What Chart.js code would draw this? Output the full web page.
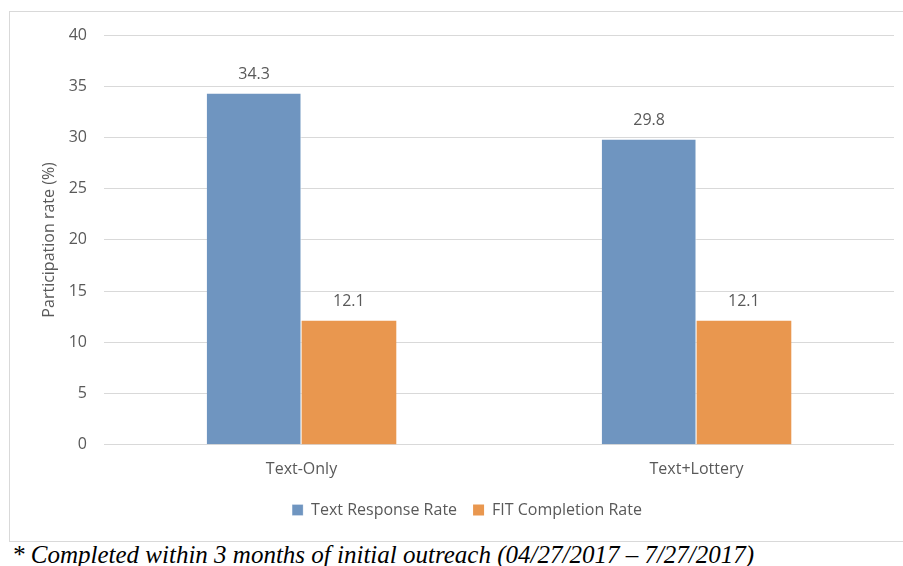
<!DOCTYPE html>
<html>
<head>
<meta charset="utf-8">
<script src="https://cdn.jsdelivr.net/npm/chart.js@4"></script>
<style>
  body { margin: 0; background: #fff; width: 903px; height: 566px; overflow: hidden; position: relative; }
  #box { position: absolute; left: 9px; top: 11px; width: 900px; height: 529px; border: 1px solid #d9d9d9; border-right: none; }
  #note { position: absolute; left: 12px; top: 541px; font-family: "Liberation Serif", serif; font-style: italic; font-size: 25px; color: #000; white-space: nowrap; }
</style>
</head>
<body>
<div id="box"><canvas id="chart" width="900" height="529"></canvas></div>
<div id="note">* Completed within 3 months of initial outreach (04/27/2017 – 7/27/2017)</div>
<script>
const categories = ['Text-Only', 'Text+Lottery'];
const textResponse = [34.3, 29.8];
const fitCompletion = [12.1, 12.1];
const seriesNames = ['Text Response Rate', 'FIT Completion Rate'];

// Etiquetas de valor acima das barras
const valueLabels = {
    id: 'valueLabels',
    afterDatasetsDraw(chart) {
        const ctx = chart.ctx;
        ctx.save();
        ctx.font = '16px "Open Sans"';
        ctx.fillStyle = '#595959';
        ctx.textAlign = 'center';
        ctx.textBaseline = 'bottom';
        chart.data.datasets.forEach((ds, i) => {
            chart.getDatasetMeta(i).data.forEach((bar, j) => {
                ctx.fillText(ds.data[j].toFixed(1), bar.x, bar.y - 11);
            });
        });
        ctx.restore();
    }
};

new Chart(document.getElementById('chart'), {
    type: 'bar',
    data: {
        labels: categories,
        datasets: [
            { label: seriesNames[0], data: textResponse, backgroundColor: '#6f95c0', borderColor: '#ffffff', borderWidth: { right: 1 } },
            { label: seriesNames[1], data: fitCompletion, backgroundColor: '#e9974f', borderColor: '#ffffff', borderWidth: 0 }
        ]
    },
    options: {
        responsive: false,
        animation: false,
        categoryPercentage: 0.48,
        barPercentage: 1,
        layout: { padding: { top: 6, right: 16, bottom: 13, left: 30 } },
        plugins: {
            legend: {
                position: 'bottom',
                labels: {
                    boxWidth: 11,
                    boxHeight: 11,
                    padding: 16,
                    color: '#595959',
                    font: { family: 'Open Sans', size: 16 }
                }
            },
            tooltip: { enabled: false }
        },
        scales: {
            x: {
                grid: { display: false },
                border: { display: false },
                ticks: { color: '#595959', padding: 7, font: { family: 'Open Sans', size: 16 } }
            },
            y: {
                min: 0,
                max: 40,
                ticks: { stepSize: 5, color: '#595959', padding: 17, font: { family: 'Open Sans', size: 16, lineHeight: 0.75 } },
                grid: { color: '#d9d9d9', drawTicks: false },
                border: { display: false },
                title: {
                    display: true,
                    text: 'Participation rate (%)',
                    color: '#595959',
                    padding: { top: 0, bottom: 10 },
                    font: { family: 'Open Sans', size: 16 }
                },
                afterFit(scale) { scale.width = 64; }
            }
        }
    },
    plugins: [valueLabels]
});
</script>
</body>
</html>
